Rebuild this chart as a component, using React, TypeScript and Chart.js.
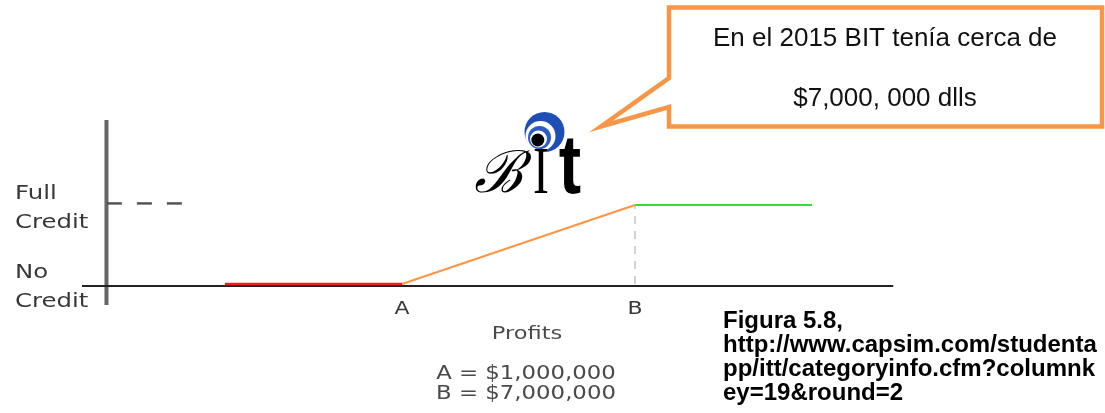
import React, { useEffect, useRef } from 'react';
import { Chart, registerables } from 'chart.js';

Chart.register(...registerables);

// x: profits in $ millions, y: share of credit (0 = none, 1 = full)
const profitTicks = [1, 7];
const profitTickLabels = ['A', 'B'];
const creditTicks = [0, 1];
const creditTickLabels = [['No', 'Credit'], ['Full', 'Credit']];
const axisTitle = 'Profits';
const keyLines = ['A = $1,000,000', 'B = $7,000,000'];

const noCreditProfits = [-3.56, 1];
const noCreditValues = [0, 0];
const partialProfits = [1, 7];
const partialValues = [0, 1];
const fullProfits = [7, 11.56];
const fullValues = [1, 1];

const guideProfits = [7, 7];
const guideValues = [0, 1];
const fullMarkProfits = [-6.6, -4.64];
const fullMarkValues = [1.02, 1.02];

const xAxisProfits = [-7.24, 13.65];
const xAxisValues = [-0.025, -0.025];
const yAxisProfits = [-6.61, -6.61];
const yAxisValues = [2.076, -0.266];

const calloutLines = ['En el 2015 BIT tenía cerca de', '$7,000, 000 dlls'];
const captionLines = [
  'Figura 5.8,',
  'http://www.capsim.com/studenta',
  'pp/itt/categoryinfo.cfm?columnk',
  'ey=19&round=2',
];
const logoLetters = ['ℬ', 'I', 't'];

const pts = (xs: number[], ys: number[]) => xs.map((x, i) => ({ x, y: ys[i] }));

function txt(
  ctx: CanvasRenderingContext2D,
  text: string,
  x: number,
  y: number,
  font: string,
  color: string,
  align: CanvasTextAlign,
  sx = 1,
) {
  ctx.save();
  ctx.font = font;
  ctx.fillStyle = color;
  ctx.textAlign = align;
  ctx.textBaseline = 'alphabetic';
  ctx.translate(x, y);
  ctx.scale(sx, 1);
  ctx.fillText(text, 0, 0);
  ctx.restore();
}

const decorPlugin = {
  id: 'decor',
  beforeDraw(chart: any) {
    const ctx = chart.ctx as CanvasRenderingContext2D;
    ctx.save();
    ctx.fillStyle = '#ffffff';
    ctx.fillRect(0, 0, chart.width, chart.height);
    ctx.restore();
  },
  afterDraw(chart: any) {
    const ctx = chart.ctx as CanvasRenderingContext2D;
    const xs = chart.scales.x;
    const ys = chart.scales.y;
    const grey = '#383838';
    const labFont = '20px "DejaVu Sans"';

    // y tick labels
    creditTicks.forEach((v, i) => {
      const py = ys.getPixelForValue(v);
      const lines = creditTickLabels[i];
      txt(ctx, lines[0], 15, py - 6, labFont, grey, 'left', 1.22);
      txt(ctx, lines[1], 15, py + 23, labFont, grey, 'left', 1.22);
    });
    // x tick labels
    const y0 = ys.getPixelForValue(0);
    profitTicks.forEach((v, i) => {
      txt(ctx, profitTickLabels[i], xs.getPixelForValue(v), y0 + 30, '18px "DejaVu Sans"', grey, 'center', 1.22);
    });
    const titleX = 527;
    txt(ctx, axisTitle, titleX, 338.5, '18px "DejaVu Sans"', '#4a4a4a', 'center', 1.25);
    keyLines.forEach((l, i) => {
      txt(ctx, l, titleX - 1, 379 + i * 20, '19px "DejaVu Sans"', '#4a4a4a', 'center', 1.2);
    });

    // callout
    ctx.save();
    ctx.beginPath();
    ctx.moveTo(669, 7.5);
    ctx.lineTo(1102, 7.5);
    ctx.lineTo(1102, 126.5);
    ctx.lineTo(669, 126.5);
    ctx.lineTo(669, 107);
    ctx.lineTo(601, 126.5);
    ctx.lineTo(669, 78);
    ctx.closePath();
    ctx.fillStyle = '#ffffff';
    ctx.fill();
    ctx.lineWidth = 4.5;
    ctx.lineJoin = 'miter';
    ctx.strokeStyle = '#F79646';
    ctx.stroke();
    ctx.restore();
    txt(ctx, calloutLines[0], 885, 45.5, '26px "Liberation Sans"', '#111111', 'center');
    txt(ctx, calloutLines[1], 885, 105.5, '26px "Liberation Sans"', '#111111', 'center');

    // caption
    captionLines.forEach((l, i) => {
      txt(ctx, l, 723, 327.5 + i * 24, 'bold 24px "Liberation Sans"', '#000000', 'left');
    });

    // logo
    const circle = (cx: number, cy: number, r: number, c: string) => {
      ctx.beginPath();
      ctx.arc(cx, cy, r, 0, Math.PI * 2);
      ctx.fillStyle = c;
      ctx.fill();
    };
    ctx.save();
    circle(544.5, 132, 20, '#1f4fb5');
    circle(540.5, 136, 15, '#ffffff');
    circle(539.5, 137.5, 11.5, '#2a5cc4');
    circle(538.5, 139, 8.5, '#ffffff');
    circle(537.8, 140, 6.5, '#000000');
    ctx.restore();
    txt(ctx, logoLetters[0], 474, 192, 'italic 58px "DejaVu Serif"', '#000000', 'left');
    txt(ctx, logoLetters[1], 541, 193, '68px "Liberation Serif"', '#000000', 'center', 0.7);
    txt(ctx, logoLetters[2], 570, 193, 'bold 84px "Liberation Sans"', '#000000', 'center', 0.8);
  },
};

export default function App() {
  const ref = useRef<HTMLCanvasElement>(null);
  useEffect(() => {
    if (!ref.current) return;
    const line = (data: any[], color: string, width: number, dash: number[] = []) => ({
      data,
      borderColor: color,
      borderWidth: width,
      borderDash: dash,
      pointRadius: 0,
      tension: 0,
      fill: false,
      borderCapStyle: 'butt',
    });
    const chart = new Chart(ref.current, {
      type: 'line',
      data: {
        datasets: [
          line(pts(noCreditProfits, noCreditValues), '#ff1a1a', 2.5),
          line(pts(partialProfits, partialValues), '#ff9444', 2),
          line(pts(fullProfits, fullValues), '#33dd33', 2),
          line(pts(guideProfits, guideValues), '#c4c4c4', 1.5, [8, 7]),
          line(pts(fullMarkProfits, fullMarkValues), '#555555', 2.5, [15, 15]),
          line(pts(xAxisProfits, xAxisValues), '#222222', 2),
          line(pts(yAxisProfits, yAxisValues), '#666666', 4),
        ] as any,
      },
      options: {
        animation: false,
        responsive: false,
        devicePixelRatio: 1,
        layout: { padding: 0 },
        plugins: { legend: { display: false }, tooltip: { enabled: false } },
        scales: {
          x: { type: 'linear', min: -9.352, max: 19.103, display: false },
          y: { type: 'linear', min: -1.6329, max: 3.5949, display: false },
        },
        events: [],
      },
      plugins: [decorPlugin],
    } as any);
    return () => chart.destroy();
  }, []);
  return (
    <div style={{ position: 'absolute', left: 0, top: 0, width: 1105, height: 413 }}>
      <canvas ref={ref} width={1105} height={413} style={{ display: 'block' }} />
    </div>
  );
}
